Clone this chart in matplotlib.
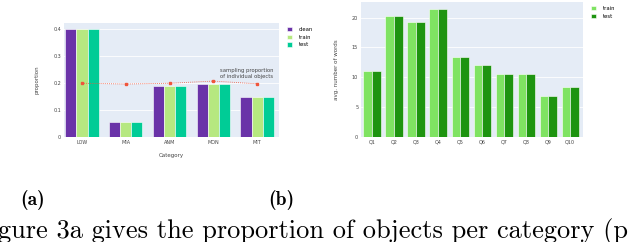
import numpy as np
import matplotlib
matplotlib.use('Agg')
import matplotlib.pyplot as plt

# data (a)
cats_a = ['LOW', 'MIA', 'ANM', 'MON', 'MIT']
clean = [0.401, 0.055, 0.19, 0.196, 0.148]
train_a = [0.400, 0.055, 0.19, 0.197, 0.148]
test_a = [0.401, 0.055, 0.19, 0.197, 0.148]
sampling = [0.199, 0.196, 0.199, 0.207, 0.197]

# data (b)
cats_b = ['Q1', 'Q2', 'Q3', 'Q4', 'Q5', 'Q6', 'Q7', 'Q8', 'Q9', 'Q10']
train_b = [11.0, 20.3, 19.2, 21.5, 13.4, 12.1, 10.5, 10.5, 6.8, 8.3]
test_b = [11.0, 20.3, 19.2, 21.5, 13.4, 12.1, 10.5, 10.5, 6.8, 8.3]

bg = '#E5ECF6'
tick_fs = 3.5
fig = plt.figure(figsize=(6.4, 2.42), dpi=100)

# ---- (a)
ax1 = fig.add_axes([64/640, 1-137/242, 215/640, 114/242])
ax1.set_facecolor(bg)
x = np.arange(len(cats_a))
w = 0.255
cols = ['#6A33A8', '#B6E880', '#00CC96']
for i, (vals, lab) in enumerate(zip([clean, train_a, test_a], ['clean', 'train', 'test'])):
    ax1.bar(x + (i-1)*w, vals, w, color=cols[i], edgecolor='white', linewidth=0.4, label=lab, zorder=2)
ax1.plot(x, sampling, color='#EF553B', ls=(0, (1, 1.5)), lw=0.6, marker='s', ms=1.5, zorder=3)
ax1.text(3.77, 0.213, 'sampling proportion\nof individual objects', fontsize=3.8, color='#444444',
         va='bottom', ha='center', linespacing=1.3)
ax1.set_xlim(-0.41, 4.5)
ax1.set_ylim(0, 0.422)
ax1.set_yticks([0, 0.1, 0.2, 0.3, 0.4])
ax1.set_yticklabels(['0', '0.1', '0.2', '0.3', '0.4'])
ax1.set_xticks(x)
ax1.set_xticklabels(cats_a)
ax1.set_xlabel('Category', fontsize=4, color='#444444', labelpad=6)
ax1.set_ylabel('proportion', fontsize=4, color='#444444', labelpad=10)
ax1.grid(axis='y', color='white', lw=0.6, zorder=0)
ax1.set_axisbelow(True)
ax1.tick_params(labelsize=tick_fs, colors='#444444', length=0, pad=2)
for s in ax1.spines.values():
    s.set_visible(False)
ax1.legend(loc='upper left', bbox_to_anchor=(1.02, 1.0), fontsize=3.8, frameon=False,
           handlelength=1, handleheight=1, labelspacing=0.5, handletextpad=1.2, borderaxespad=0.3)

# ---- (b)
ax2 = fig.add_axes([361/640, 1-137/242, 222/640, 135/242])
ax2.set_facecolor(bg)
x2 = np.arange(len(cats_b))
w2 = 0.39
ax2.bar(x2 - w2/2, train_b, w2, color='#7FE362', edgecolor='white', linewidth=0.4, label='train', zorder=2)
ax2.bar(x2 + w2/2, test_b, w2, color='#1E9410', edgecolor='white', linewidth=0.4, label='test', zorder=2)
ax2.set_xlim(-0.5, 9.58)
ax2.set_ylim(0, 22.6)
ax2.set_yticks([0, 5, 10, 15, 20])
ax2.set_xticks(x2)
ax2.set_xticklabels(cats_b)
ax2.set_ylabel('avg. number of words', fontsize=4, color='#444444', labelpad=9)
ax2.grid(axis='y', color='white', lw=0.6, zorder=0)
ax2.set_axisbelow(True)
ax2.tick_params(labelsize=tick_fs, colors='#444444', length=0, pad=2)
for s in ax2.spines.values():
    s.set_visible(False)
ax2.legend(loc='upper left', bbox_to_anchor=(1.02, 1.0), fontsize=3.8, frameon=False,
           handlelength=1, handleheight=1, labelspacing=0.5, handletextpad=1.2, borderaxespad=0.3)

# ---- captions
fig.text(33/640, 1-200/242, '(a)', fontsize=14, fontfamily='cmb10', ha='center', va='center')
fig.text(281/640, 1-200/242, '(b)', fontsize=14, fontfamily='cmb10', ha='center', va='center')
fig.text(-2/640, 1-232/242, 'gure 3a gives the proportion of objects per category (p', fontsize=19,
         fontfamily='cmr10', ha='left', va='center')

fig.savefig('out.png', dpi=100)
